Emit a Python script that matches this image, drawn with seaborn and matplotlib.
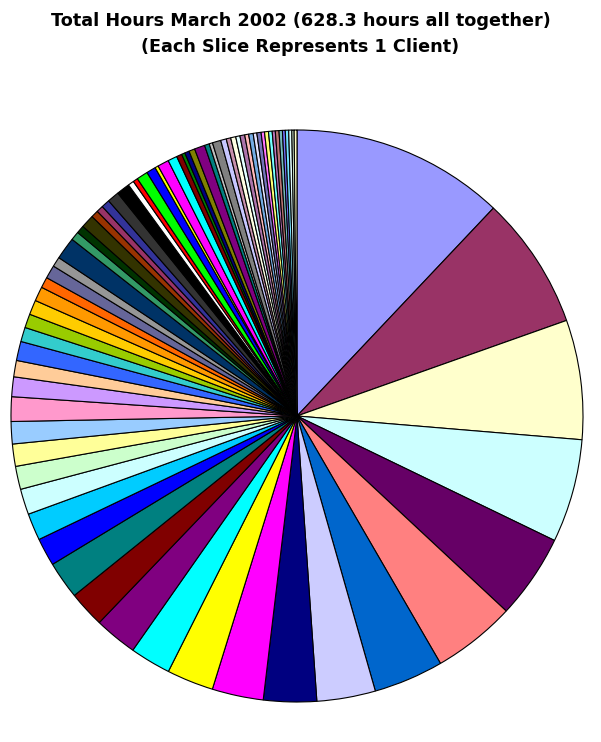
import matplotlib.pyplot as plt
import matplotlib.colors as mcolors
import numpy as np
import seaborn as sns

sns.set_style("white")

# hours per client, in the order drawn (clockwise from 12 o'clock)
hours_solid = [
    75.7, 47.3, 42.4, 36.7, 30.0, 29.5, 24.8, 20.8,
    18.8, 18.2, 16.6, 14.5, 15.2, 12.9, 13.3, 9.9,
    9.6, 9.1, 8.2, 7.9, 7.9, 8.7, 7.0, 5.8,
    6.8, 5.1, 4.9, 5.2, 5.1, 3.8, 4.7, 3.5,
    7.9, 3.1, 2.8, 4.7, 2.6, 2.4, 3.0, 4.2,
    4.7, 2.1, 1.7, 4.0, 3.3, 1.2, 4.0, 3.3,
    1.9, 1.2, 1.6, 2.1, 3.7, 1.7, 1.2, 3.0,
]
hours_pattern = [
    2.0, 1.6, 1.8, 1.5, 1.7, 1.4, 1.6, 1.3, 1.5, 1.2,
    1.4, 1.3, 1.1, 1.3, 1.2, 1.0, 1.2, 1.1, 0.8, 1.0,
]
hours = hours_solid + hours_pattern

# Excel 97 chart fill order
excel_colors = [
    "#9999FF", "#993366", "#FFFFCC", "#CCFFFF", "#660066", "#FF8080", "#0066CC", "#CCCCFF",
    "#000080", "#FF00FF", "#FFFF00", "#00FFFF", "#800080", "#800000", "#008080", "#0000FF",
    "#00CCFF", "#CCFFFF", "#CCFFCC", "#FFFF99", "#99CCFF", "#FF99CC", "#CC99FF", "#FFCC99",
    "#3366FF", "#33CCCC", "#99CC00", "#FFCC00", "#FF9900", "#FF6600", "#666699", "#969696",
    "#003366", "#339966", "#003300", "#333300", "#993300", "#993366", "#333399", "#333333",
    "#000000", "#FFFFFF", "#FF0000", "#00FF00", "#0000FF", "#FFFF00", "#FF00FF", "#00FFFF",
    "#800000", "#008000", "#000080", "#808000", "#800080", "#008080", "#C0C0C0", "#808080",
]

title_lines = [
    "Total Hours March 2002 (628.3 hours all together)",
    "(Each Slice Represents 1 Client)",
]

palette = sns.color_palette(excel_colors)
colors = []
for i in range(len(hours)):
    c = np.array(palette[i % len(palette)])
    if i >= len(palette):
        # patterned fills after the first cycle -> approximate as a lighter dither
        c = 0.55 * c + 0.45 * np.ones(3)
    colors.append(mcolors.to_hex(c))

fig = plt.figure(figsize=(6.01, 7.42), dpi=100)
ax = fig.add_axes([11 / 601, 40 / 742, 572 / 601, 572 / 742])
ax.pie(
    hours,
    colors=colors,
    startangle=90,
    counterclock=False,
    wedgeprops=dict(edgecolor="black", linewidth=0.8),
)
ax.set_xlim(-1, 1)
ax.set_ylim(-1, 1)
ax.set_aspect("equal")
ax.axis("off")

for text, ypix in zip(title_lines, [21, 47]):
    fig.text(0.5, 1 - ypix / 742, text, ha="center", va="center", color="black",
             fontsize=12.7, fontweight="bold", family="DejaVu Sans")

fig.savefig("out.png", dpi=100, facecolor="white")
